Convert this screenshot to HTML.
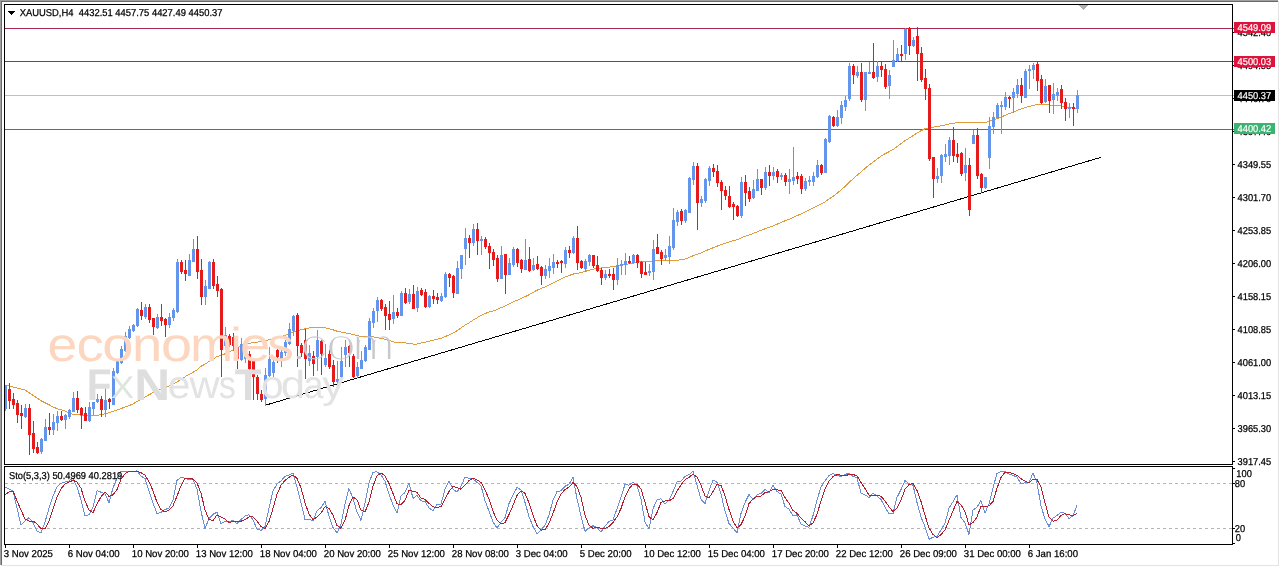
<!DOCTYPE html>
<html><head><meta charset="utf-8"><style>
html,body{margin:0;padding:0;background:#fff;}
body{width:1280px;height:567px;overflow:hidden;position:relative;}
svg{position:absolute;left:0;top:0;}
</style></head><body>
<svg width="1280" height="567" viewBox="0 0 1280 567" font-family="Liberation Sans, Arial, sans-serif" style="text-rendering:geometricPrecision">
<defs>
<pattern id="dash" x="5" y="0" width="6" height="1" patternUnits="userSpaceOnUse"><rect x="0" y="0" width="3" height="1" fill="#b4b4b4"/></pattern>
<filter id="thin" x="-5%" y="-5%" width="110%" height="110%"><feMorphology operator="erode" radius="0.7"/></filter>
<clipPath id="mainclip"><rect x="5" y="5" width="1227" height="459"/></clipPath>
<clipPath id="stclip"><rect x="5" y="467" width="1227" height="77"/></clipPath>
</defs>
<g shape-rendering="crispEdges">
<g clip-path="url(#mainclip)">
<rect x="5" y="28" width="1230" height="1" fill="#a8294f"/>
<rect x="5" y="61" width="1230" height="1" fill="#a8294f"/>
<rect x="5" y="95" width="1230" height="1" fill="#c0c0c0"/>
<rect x="5" y="129" width="1230" height="1" fill="#2e8b57"/>
<line x1="265.8" y1="405.1" x2="1100.7" y2="157.4" stroke="#000" stroke-width="1" shape-rendering="crispEdges"/>
<polyline fill="none" stroke="#e09c3c" stroke-width="1" shape-rendering="crispEdges" points="5,385.0 9,385.9 13,386.9 17,387.9 21,389.0 25,390.0 29,392.7 33,395.4 37,398.0 41,400.7 45,402.8 49,404.8 53,406.9 57,408.7 61,409.7 65,411.0 69,413.2 73,414.3 77,414.8 81,415.1 85,415.3 89,415.5 93,415.4 97,415.2 101,414.8 105,413.8 109,412.8 113,411.4 117,410.0 121,408.6 125,407.1 129,405.6 133,404.0 137,401.4 141,399.1 145,397.0 149,394.8 153,392.6 157,390.9 161,389.2 165,387.6 169,386.0 173,384.0 177,381.9 181,379.4 185,376.8 189,374.5 193,372.3 197,370.1 201,366.2 205,364.2 209,361.5 213,359.1 217,356.6 221,355.3 225,353.8 229,352.0 233,350.0 237,348.1 241,346.2 245,344.7 249,343.4 253,342.5 257,342.1 261,341.7 265,340.9 269,339.8 273,339.1 277,338.1 281,336.8 285,335.3 289,333.7 293,332.0 297,330.9 301,329.8 305,328.9 309,328.0 313,327.8 317,327.4 321,327.5 325,327.9 329,328.7 333,329.8 337,331.2 341,332.1 345,332.9 349,333.6 353,334.6 357,335.6 361,336.4 365,336.8 369,336.9 373,336.9 377,337.7 381,338.4 385,339.3 389,340.5 393,341.7 397,342.6 401,342.5 405,342.9 409,343.5 413,344.0 417,344.0 421,342.9 425,342.3 429,341.3 433,340.4 437,339.2 441,338.3 445,336.7 449,334.9 453,333.2 457,330.7 461,327.9 465,325.1 469,322.8 473,320.1 477,317.8 481,315.5 485,313.6 489,312.1 493,310.9 497,309.6 501,307.7 505,306.0 509,304.2 513,301.9 517,300.3 521,298.6 525,296.7 529,294.8 533,292.4 537,290.2 541,288.5 545,286.9 549,285.2 553,282.9 557,280.9 561,278.9 565,277.0 569,275.6 573,274.1 577,273.4 581,272.5 585,271.5 589,270.2 593,269.2 597,268.3 601,268.0 605,267.5 609,267.1 613,266.5 617,266.0 621,265.4 625,264.5 629,263.8 633,262.9 637,262.2 641,261.7 645,261.7 649,261.6 653,260.8 657,260.4 661,260.5 665,260.9 669,260.9 673,260.8 677,260.2 681,259.8 685,259.1 689,257.6 693,255.8 697,254.2 701,253.1 705,251.2 709,249.3 713,247.8 717,246.2 721,244.6 725,243.3 729,242.0 733,240.8 737,239.8 741,237.9 745,236.4 749,235.0 753,233.6 757,231.9 761,230.4 765,228.8 769,227.3 773,225.9 777,224.2 781,222.4 785,220.8 789,219.3 793,217.5 797,215.7 801,213.9 805,212.0 809,210.1 813,208.1 817,206.1 821,204.2 825,201.8 829,198.9 833,196.3 837,193.4 841,190.0 845,186.5 849,182.4 853,178.9 857,175.3 861,172.1 865,168.5 869,165.0 873,162.1 877,159.2 881,156.2 885,153.7 889,151.7 893,149.5 897,146.6 901,143.7 905,140.7 909,138.2 913,135.6 917,133.0 921,130.8 925,128.7 929,127.7 933,127.2 937,126.4 941,125.8 945,125.1 949,123.9 953,123.2 957,122.8 961,122.5 965,122.4 969,123.0 973,122.3 977,122.3 981,122.5 985,122.4 989,121.4 993,120.2 997,118.7 1001,117.1 1005,115.4 1009,113.7 1013,112.1 1017,110.5 1021,108.9 1025,107.6 1029,106.6 1033,105.4 1037,104.7 1041,104.6 1045,104.3 1049,105.0 1053,105.4 1057,105.8 1061,105.9 1065,106.6 1069,107.3 1073,107.9 1077,108.5"/>
<rect x="5" y="385" width="1" height="26" fill="#6495ed"/>
<rect x="4" y="386" width="3" height="23" fill="#6495ed"/>
<rect x="9" y="383" width="1" height="26" fill="#e51a1a"/>
<rect x="8" y="389" width="3" height="12" fill="#e51a1a"/>
<rect x="13" y="393" width="1" height="16" fill="#e51a1a"/>
<rect x="12" y="399" width="3" height="6" fill="#e51a1a"/>
<rect x="17" y="400" width="1" height="23" fill="#e51a1a"/>
<rect x="16" y="403" width="3" height="12" fill="#e51a1a"/>
<rect x="21" y="405" width="1" height="24" fill="#e51a1a"/>
<rect x="20" y="413" width="3" height="3" fill="#e51a1a"/>
<rect x="25" y="404" width="1" height="14" fill="#6495ed"/>
<rect x="24" y="408" width="3" height="9" fill="#6495ed"/>
<rect x="29" y="404" width="1" height="51" fill="#e51a1a"/>
<rect x="28" y="408" width="3" height="27" fill="#e51a1a"/>
<rect x="33" y="421" width="1" height="32" fill="#e51a1a"/>
<rect x="32" y="433" width="3" height="16" fill="#e51a1a"/>
<rect x="37" y="442" width="1" height="12" fill="#e51a1a"/>
<rect x="36" y="447" width="3" height="6" fill="#e51a1a"/>
<rect x="41" y="438" width="1" height="16" fill="#6495ed"/>
<rect x="40" y="439" width="3" height="13" fill="#6495ed"/>
<rect x="45" y="419" width="1" height="22" fill="#6495ed"/>
<rect x="44" y="427" width="3" height="14" fill="#6495ed"/>
<rect x="49" y="413" width="1" height="22" fill="#e51a1a"/>
<rect x="48" y="427" width="3" height="3" fill="#e51a1a"/>
<rect x="53" y="414" width="1" height="21" fill="#6495ed"/>
<rect x="52" y="422" width="3" height="8" fill="#6495ed"/>
<rect x="57" y="411" width="1" height="20" fill="#6495ed"/>
<rect x="56" y="416" width="3" height="7" fill="#6495ed"/>
<rect x="61" y="411" width="1" height="10" fill="#e51a1a"/>
<rect x="60" y="416" width="3" height="4" fill="#e51a1a"/>
<rect x="65" y="414" width="1" height="15" fill="#6495ed"/>
<rect x="64" y="415" width="3" height="5" fill="#6495ed"/>
<rect x="69" y="409" width="1" height="10" fill="#6495ed"/>
<rect x="68" y="410" width="3" height="7" fill="#6495ed"/>
<rect x="73" y="392" width="1" height="20" fill="#6495ed"/>
<rect x="72" y="398" width="3" height="14" fill="#6495ed"/>
<rect x="77" y="391" width="1" height="22" fill="#e51a1a"/>
<rect x="76" y="398" width="3" height="12" fill="#e51a1a"/>
<rect x="81" y="407" width="1" height="22" fill="#e51a1a"/>
<rect x="80" y="408" width="3" height="7" fill="#e51a1a"/>
<rect x="85" y="407" width="1" height="14" fill="#e51a1a"/>
<rect x="84" y="413" width="3" height="8" fill="#e51a1a"/>
<rect x="89" y="402" width="1" height="20" fill="#6495ed"/>
<rect x="88" y="407" width="3" height="14" fill="#6495ed"/>
<rect x="93" y="402" width="1" height="13" fill="#6495ed"/>
<rect x="92" y="402" width="3" height="7" fill="#6495ed"/>
<rect x="97" y="394" width="1" height="9" fill="#6495ed"/>
<rect x="96" y="399" width="3" height="3" fill="#6495ed"/>
<rect x="101" y="396" width="1" height="21" fill="#e51a1a"/>
<rect x="100" y="399" width="3" height="11" fill="#e51a1a"/>
<rect x="105" y="388" width="1" height="29" fill="#6495ed"/>
<rect x="104" y="400" width="3" height="10" fill="#6495ed"/>
<rect x="109" y="398" width="1" height="11" fill="#e51a1a"/>
<rect x="108" y="399" width="3" height="3" fill="#e51a1a"/>
<rect x="113" y="368" width="1" height="37" fill="#6495ed"/>
<rect x="112" y="371" width="3" height="34" fill="#6495ed"/>
<rect x="117" y="360" width="1" height="14" fill="#6495ed"/>
<rect x="116" y="361" width="3" height="12" fill="#6495ed"/>
<rect x="121" y="346" width="1" height="18" fill="#6495ed"/>
<rect x="120" y="349" width="3" height="14" fill="#6495ed"/>
<rect x="125" y="332" width="1" height="20" fill="#6495ed"/>
<rect x="124" y="336" width="3" height="15" fill="#6495ed"/>
<rect x="129" y="326" width="1" height="13" fill="#6495ed"/>
<rect x="128" y="329" width="3" height="9" fill="#6495ed"/>
<rect x="133" y="324" width="1" height="8" fill="#6495ed"/>
<rect x="132" y="325" width="3" height="6" fill="#6495ed"/>
<rect x="137" y="308" width="1" height="19" fill="#6495ed"/>
<rect x="136" y="309" width="3" height="17" fill="#6495ed"/>
<rect x="141" y="302" width="1" height="18" fill="#e51a1a"/>
<rect x="140" y="310" width="3" height="6" fill="#e51a1a"/>
<rect x="145" y="304" width="1" height="15" fill="#6495ed"/>
<rect x="144" y="307" width="3" height="10" fill="#6495ed"/>
<rect x="149" y="304" width="1" height="19" fill="#e51a1a"/>
<rect x="148" y="307" width="3" height="13" fill="#e51a1a"/>
<rect x="153" y="318" width="1" height="17" fill="#e51a1a"/>
<rect x="152" y="318" width="3" height="9" fill="#e51a1a"/>
<rect x="157" y="314" width="1" height="15" fill="#6495ed"/>
<rect x="156" y="317" width="3" height="11" fill="#6495ed"/>
<rect x="161" y="304" width="1" height="22" fill="#e51a1a"/>
<rect x="160" y="317" width="3" height="4" fill="#e51a1a"/>
<rect x="165" y="318" width="1" height="19" fill="#e51a1a"/>
<rect x="164" y="319" width="3" height="6" fill="#e51a1a"/>
<rect x="169" y="313" width="1" height="15" fill="#6495ed"/>
<rect x="168" y="317" width="3" height="8" fill="#6495ed"/>
<rect x="173" y="308" width="1" height="13" fill="#6495ed"/>
<rect x="172" y="310" width="3" height="8" fill="#6495ed"/>
<rect x="177" y="259" width="1" height="54" fill="#6495ed"/>
<rect x="176" y="262" width="3" height="50" fill="#6495ed"/>
<rect x="181" y="260" width="1" height="14" fill="#e51a1a"/>
<rect x="180" y="262" width="3" height="10" fill="#e51a1a"/>
<rect x="185" y="260" width="1" height="21" fill="#e51a1a"/>
<rect x="184" y="270" width="3" height="4" fill="#e51a1a"/>
<rect x="189" y="254" width="1" height="22" fill="#6495ed"/>
<rect x="188" y="260" width="3" height="16" fill="#6495ed"/>
<rect x="193" y="239" width="1" height="23" fill="#6495ed"/>
<rect x="192" y="249" width="3" height="13" fill="#6495ed"/>
<rect x="197" y="236" width="1" height="43" fill="#e51a1a"/>
<rect x="196" y="249" width="3" height="23" fill="#e51a1a"/>
<rect x="201" y="259" width="1" height="46" fill="#e51a1a"/>
<rect x="200" y="270" width="3" height="27" fill="#e51a1a"/>
<rect x="205" y="280" width="1" height="25" fill="#6495ed"/>
<rect x="204" y="286" width="3" height="11" fill="#6495ed"/>
<rect x="209" y="261" width="1" height="28" fill="#6495ed"/>
<rect x="208" y="262" width="3" height="27" fill="#6495ed"/>
<rect x="213" y="259" width="1" height="30" fill="#e51a1a"/>
<rect x="212" y="262" width="3" height="24" fill="#e51a1a"/>
<rect x="217" y="276" width="1" height="21" fill="#e51a1a"/>
<rect x="216" y="284" width="3" height="7" fill="#e51a1a"/>
<rect x="221" y="288" width="1" height="89" fill="#e51a1a"/>
<rect x="220" y="289" width="3" height="61" fill="#e51a1a"/>
<rect x="225" y="327" width="1" height="22" fill="#6495ed"/>
<rect x="224" y="335" width="3" height="11" fill="#6495ed"/>
<rect x="229" y="334" width="1" height="13" fill="#e51a1a"/>
<rect x="228" y="336" width="3" height="9" fill="#e51a1a"/>
<rect x="233" y="333" width="1" height="18" fill="#e51a1a"/>
<rect x="232" y="337" width="3" height="9" fill="#e51a1a"/>
<rect x="237" y="345" width="1" height="24" fill="#e51a1a"/>
<rect x="236" y="347" width="3" height="12" fill="#e51a1a"/>
<rect x="241" y="338" width="1" height="23" fill="#6495ed"/>
<rect x="240" y="344" width="3" height="16" fill="#6495ed"/>
<rect x="245" y="348" width="1" height="15" fill="#6495ed"/>
<rect x="244" y="350" width="3" height="9" fill="#6495ed"/>
<rect x="249" y="351" width="1" height="19" fill="#e51a1a"/>
<rect x="248" y="354" width="3" height="15" fill="#e51a1a"/>
<rect x="253" y="358" width="1" height="42" fill="#e51a1a"/>
<rect x="252" y="361" width="3" height="16" fill="#e51a1a"/>
<rect x="257" y="375" width="1" height="25" fill="#e51a1a"/>
<rect x="256" y="377" width="3" height="17" fill="#e51a1a"/>
<rect x="261" y="390" width="1" height="12" fill="#e51a1a"/>
<rect x="260" y="394" width="3" height="6" fill="#e51a1a"/>
<rect x="265" y="368" width="1" height="38" fill="#6495ed"/>
<rect x="264" y="375" width="3" height="24" fill="#6495ed"/>
<rect x="269" y="347" width="1" height="30" fill="#6495ed"/>
<rect x="268" y="359" width="3" height="17" fill="#6495ed"/>
<rect x="273" y="358" width="1" height="19" fill="#6495ed"/>
<rect x="272" y="362" width="3" height="11" fill="#6495ed"/>
<rect x="277" y="348" width="1" height="15" fill="#e51a1a"/>
<rect x="276" y="350" width="3" height="7" fill="#e51a1a"/>
<rect x="281" y="348" width="1" height="19" fill="#6495ed"/>
<rect x="280" y="352" width="3" height="7" fill="#6495ed"/>
<rect x="285" y="340" width="1" height="16" fill="#6495ed"/>
<rect x="284" y="342" width="3" height="11" fill="#6495ed"/>
<rect x="289" y="323" width="1" height="22" fill="#6495ed"/>
<rect x="288" y="329" width="3" height="15" fill="#6495ed"/>
<rect x="293" y="315" width="1" height="21" fill="#6495ed"/>
<rect x="292" y="316" width="3" height="15" fill="#6495ed"/>
<rect x="297" y="313" width="1" height="54" fill="#e51a1a"/>
<rect x="296" y="315" width="3" height="31" fill="#e51a1a"/>
<rect x="301" y="343" width="1" height="14" fill="#e51a1a"/>
<rect x="300" y="345" width="3" height="8" fill="#e51a1a"/>
<rect x="305" y="329" width="1" height="50" fill="#e51a1a"/>
<rect x="304" y="340" width="3" height="19" fill="#e51a1a"/>
<rect x="309" y="345" width="1" height="21" fill="#6495ed"/>
<rect x="308" y="353" width="3" height="8" fill="#6495ed"/>
<rect x="313" y="351" width="1" height="25" fill="#e51a1a"/>
<rect x="312" y="356" width="3" height="8" fill="#e51a1a"/>
<rect x="317" y="330" width="1" height="41" fill="#6495ed"/>
<rect x="316" y="340" width="3" height="17" fill="#6495ed"/>
<rect x="321" y="340" width="1" height="35" fill="#e51a1a"/>
<rect x="320" y="341" width="3" height="13" fill="#e51a1a"/>
<rect x="325" y="344" width="1" height="23" fill="#6495ed"/>
<rect x="324" y="358" width="3" height="7" fill="#6495ed"/>
<rect x="329" y="350" width="1" height="19" fill="#e51a1a"/>
<rect x="328" y="354" width="3" height="13" fill="#e51a1a"/>
<rect x="333" y="360" width="1" height="27" fill="#e51a1a"/>
<rect x="332" y="365" width="3" height="17" fill="#e51a1a"/>
<rect x="337" y="361" width="1" height="26" fill="#6495ed"/>
<rect x="336" y="379" width="3" height="3" fill="#6495ed"/>
<rect x="341" y="347" width="1" height="31" fill="#6495ed"/>
<rect x="340" y="361" width="3" height="16" fill="#6495ed"/>
<rect x="345" y="340" width="1" height="27" fill="#6495ed"/>
<rect x="344" y="347" width="3" height="8" fill="#6495ed"/>
<rect x="349" y="345" width="1" height="22" fill="#e51a1a"/>
<rect x="348" y="346" width="3" height="7" fill="#e51a1a"/>
<rect x="353" y="354" width="1" height="24" fill="#e51a1a"/>
<rect x="352" y="356" width="3" height="21" fill="#e51a1a"/>
<rect x="357" y="362" width="1" height="16" fill="#6495ed"/>
<rect x="356" y="367" width="3" height="9" fill="#6495ed"/>
<rect x="361" y="351" width="1" height="18" fill="#6495ed"/>
<rect x="360" y="360" width="3" height="9" fill="#6495ed"/>
<rect x="365" y="345" width="1" height="17" fill="#6495ed"/>
<rect x="364" y="347" width="3" height="14" fill="#6495ed"/>
<rect x="369" y="318" width="1" height="32" fill="#6495ed"/>
<rect x="368" y="321" width="3" height="29" fill="#6495ed"/>
<rect x="373" y="308" width="1" height="20" fill="#6495ed"/>
<rect x="372" y="311" width="3" height="12" fill="#6495ed"/>
<rect x="377" y="297" width="1" height="25" fill="#6495ed"/>
<rect x="376" y="300" width="3" height="11" fill="#6495ed"/>
<rect x="381" y="299" width="1" height="12" fill="#e51a1a"/>
<rect x="380" y="300" width="3" height="9" fill="#e51a1a"/>
<rect x="385" y="304" width="1" height="26" fill="#e51a1a"/>
<rect x="384" y="307" width="3" height="9" fill="#e51a1a"/>
<rect x="389" y="301" width="1" height="29" fill="#e51a1a"/>
<rect x="388" y="314" width="3" height="6" fill="#e51a1a"/>
<rect x="393" y="295" width="1" height="29" fill="#6495ed"/>
<rect x="392" y="312" width="3" height="7" fill="#6495ed"/>
<rect x="397" y="308" width="1" height="10" fill="#e51a1a"/>
<rect x="396" y="312" width="3" height="4" fill="#e51a1a"/>
<rect x="401" y="291" width="1" height="25" fill="#6495ed"/>
<rect x="400" y="293" width="3" height="23" fill="#6495ed"/>
<rect x="405" y="288" width="1" height="16" fill="#e51a1a"/>
<rect x="404" y="293" width="3" height="10" fill="#e51a1a"/>
<rect x="409" y="289" width="1" height="15" fill="#6495ed"/>
<rect x="408" y="294" width="3" height="8" fill="#6495ed"/>
<rect x="413" y="285" width="1" height="24" fill="#e51a1a"/>
<rect x="412" y="294" width="3" height="15" fill="#e51a1a"/>
<rect x="417" y="287" width="1" height="25" fill="#6495ed"/>
<rect x="416" y="291" width="3" height="17" fill="#6495ed"/>
<rect x="421" y="288" width="1" height="8" fill="#e51a1a"/>
<rect x="420" y="290" width="3" height="5" fill="#e51a1a"/>
<rect x="425" y="289" width="1" height="19" fill="#e51a1a"/>
<rect x="424" y="292" width="3" height="15" fill="#e51a1a"/>
<rect x="429" y="295" width="1" height="13" fill="#6495ed"/>
<rect x="428" y="296" width="3" height="11" fill="#6495ed"/>
<rect x="433" y="290" width="1" height="14" fill="#e51a1a"/>
<rect x="432" y="296" width="3" height="3" fill="#e51a1a"/>
<rect x="437" y="293" width="1" height="11" fill="#e51a1a"/>
<rect x="436" y="297" width="3" height="3" fill="#e51a1a"/>
<rect x="441" y="293" width="1" height="9" fill="#6495ed"/>
<rect x="440" y="296" width="3" height="5" fill="#6495ed"/>
<rect x="445" y="272" width="1" height="26" fill="#6495ed"/>
<rect x="444" y="274" width="3" height="23" fill="#6495ed"/>
<rect x="449" y="273" width="1" height="14" fill="#e51a1a"/>
<rect x="448" y="274" width="3" height="4" fill="#e51a1a"/>
<rect x="453" y="275" width="1" height="23" fill="#e51a1a"/>
<rect x="452" y="276" width="3" height="17" fill="#e51a1a"/>
<rect x="457" y="261" width="1" height="33" fill="#6495ed"/>
<rect x="456" y="268" width="3" height="26" fill="#6495ed"/>
<rect x="461" y="255" width="1" height="24" fill="#6495ed"/>
<rect x="460" y="255" width="3" height="14" fill="#6495ed"/>
<rect x="465" y="228" width="1" height="37" fill="#6495ed"/>
<rect x="464" y="238" width="3" height="11" fill="#6495ed"/>
<rect x="469" y="235" width="1" height="23" fill="#e51a1a"/>
<rect x="468" y="238" width="3" height="5" fill="#e51a1a"/>
<rect x="473" y="224" width="1" height="22" fill="#6495ed"/>
<rect x="472" y="229" width="3" height="14" fill="#6495ed"/>
<rect x="477" y="223" width="1" height="32" fill="#e51a1a"/>
<rect x="476" y="229" width="3" height="12" fill="#e51a1a"/>
<rect x="481" y="236" width="1" height="19" fill="#6495ed"/>
<rect x="480" y="239" width="3" height="2" fill="#6495ed"/>
<rect x="485" y="237" width="1" height="12" fill="#e51a1a"/>
<rect x="484" y="239" width="3" height="8" fill="#e51a1a"/>
<rect x="489" y="243" width="1" height="26" fill="#e51a1a"/>
<rect x="488" y="246" width="3" height="7" fill="#e51a1a"/>
<rect x="493" y="249" width="1" height="17" fill="#e51a1a"/>
<rect x="492" y="252" width="3" height="8" fill="#e51a1a"/>
<rect x="497" y="255" width="1" height="27" fill="#e51a1a"/>
<rect x="496" y="258" width="3" height="21" fill="#e51a1a"/>
<rect x="501" y="246" width="1" height="33" fill="#6495ed"/>
<rect x="500" y="255" width="3" height="24" fill="#6495ed"/>
<rect x="505" y="254" width="1" height="40" fill="#e51a1a"/>
<rect x="504" y="254" width="3" height="21" fill="#e51a1a"/>
<rect x="509" y="258" width="1" height="17" fill="#6495ed"/>
<rect x="508" y="263" width="3" height="12" fill="#6495ed"/>
<rect x="513" y="247" width="1" height="20" fill="#6495ed"/>
<rect x="512" y="249" width="3" height="16" fill="#6495ed"/>
<rect x="517" y="248" width="1" height="19" fill="#e51a1a"/>
<rect x="516" y="249" width="3" height="14" fill="#e51a1a"/>
<rect x="521" y="259" width="1" height="14" fill="#e51a1a"/>
<rect x="520" y="260" width="3" height="9" fill="#e51a1a"/>
<rect x="525" y="239" width="1" height="31" fill="#6495ed"/>
<rect x="524" y="260" width="3" height="10" fill="#6495ed"/>
<rect x="529" y="247" width="1" height="25" fill="#e51a1a"/>
<rect x="528" y="259" width="3" height="12" fill="#e51a1a"/>
<rect x="533" y="258" width="1" height="13" fill="#6495ed"/>
<rect x="532" y="265" width="3" height="5" fill="#6495ed"/>
<rect x="537" y="256" width="1" height="14" fill="#e51a1a"/>
<rect x="536" y="264" width="3" height="5" fill="#e51a1a"/>
<rect x="541" y="266" width="1" height="19" fill="#e51a1a"/>
<rect x="540" y="267" width="3" height="9" fill="#e51a1a"/>
<rect x="545" y="265" width="1" height="14" fill="#6495ed"/>
<rect x="544" y="269" width="3" height="7" fill="#6495ed"/>
<rect x="549" y="258" width="1" height="20" fill="#6495ed"/>
<rect x="548" y="266" width="3" height="5" fill="#6495ed"/>
<rect x="553" y="254" width="1" height="20" fill="#6495ed"/>
<rect x="552" y="262" width="3" height="6" fill="#6495ed"/>
<rect x="557" y="260" width="1" height="8" fill="#e51a1a"/>
<rect x="556" y="262" width="3" height="2" fill="#e51a1a"/>
<rect x="561" y="260" width="1" height="13" fill="#e51a1a"/>
<rect x="560" y="261" width="3" height="2" fill="#e51a1a"/>
<rect x="565" y="247" width="1" height="21" fill="#6495ed"/>
<rect x="564" y="250" width="3" height="14" fill="#6495ed"/>
<rect x="569" y="246" width="1" height="12" fill="#e51a1a"/>
<rect x="568" y="250" width="3" height="3" fill="#e51a1a"/>
<rect x="573" y="236" width="1" height="18" fill="#6495ed"/>
<rect x="572" y="238" width="3" height="15" fill="#6495ed"/>
<rect x="577" y="226" width="1" height="44" fill="#e51a1a"/>
<rect x="576" y="238" width="3" height="25" fill="#e51a1a"/>
<rect x="581" y="260" width="1" height="9" fill="#e51a1a"/>
<rect x="580" y="261" width="3" height="7" fill="#e51a1a"/>
<rect x="585" y="259" width="1" height="13" fill="#6495ed"/>
<rect x="584" y="261" width="3" height="8" fill="#6495ed"/>
<rect x="589" y="254" width="1" height="12" fill="#6495ed"/>
<rect x="588" y="255" width="3" height="7" fill="#6495ed"/>
<rect x="593" y="255" width="1" height="13" fill="#e51a1a"/>
<rect x="592" y="255" width="3" height="11" fill="#e51a1a"/>
<rect x="597" y="256" width="1" height="16" fill="#e51a1a"/>
<rect x="596" y="265" width="3" height="6" fill="#e51a1a"/>
<rect x="601" y="268" width="1" height="17" fill="#e51a1a"/>
<rect x="600" y="270" width="3" height="8" fill="#e51a1a"/>
<rect x="605" y="270" width="1" height="10" fill="#6495ed"/>
<rect x="604" y="274" width="3" height="4" fill="#6495ed"/>
<rect x="609" y="269" width="1" height="9" fill="#e51a1a"/>
<rect x="608" y="274" width="3" height="2" fill="#e51a1a"/>
<rect x="613" y="268" width="1" height="22" fill="#e51a1a"/>
<rect x="612" y="274" width="3" height="6" fill="#e51a1a"/>
<rect x="617" y="258" width="1" height="27" fill="#6495ed"/>
<rect x="616" y="265" width="3" height="15" fill="#6495ed"/>
<rect x="621" y="260" width="1" height="15" fill="#6495ed"/>
<rect x="620" y="264" width="3" height="2" fill="#6495ed"/>
<rect x="625" y="253" width="1" height="22" fill="#6495ed"/>
<rect x="624" y="261" width="3" height="4" fill="#6495ed"/>
<rect x="629" y="256" width="1" height="8" fill="#e51a1a"/>
<rect x="628" y="261" width="3" height="2" fill="#e51a1a"/>
<rect x="633" y="254" width="1" height="10" fill="#6495ed"/>
<rect x="632" y="255" width="3" height="8" fill="#6495ed"/>
<rect x="637" y="254" width="1" height="14" fill="#e51a1a"/>
<rect x="636" y="255" width="3" height="8" fill="#e51a1a"/>
<rect x="641" y="261" width="1" height="17" fill="#e51a1a"/>
<rect x="640" y="262" width="3" height="12" fill="#e51a1a"/>
<rect x="645" y="262" width="1" height="13" fill="#e51a1a"/>
<rect x="644" y="272" width="3" height="3" fill="#e51a1a"/>
<rect x="649" y="264" width="1" height="12" fill="#6495ed"/>
<rect x="648" y="271" width="3" height="2" fill="#6495ed"/>
<rect x="653" y="240" width="1" height="40" fill="#6495ed"/>
<rect x="652" y="249" width="3" height="23" fill="#6495ed"/>
<rect x="657" y="234" width="1" height="20" fill="#e51a1a"/>
<rect x="656" y="247" width="3" height="7" fill="#e51a1a"/>
<rect x="661" y="250" width="1" height="15" fill="#e51a1a"/>
<rect x="660" y="252" width="3" height="7" fill="#e51a1a"/>
<rect x="665" y="249" width="1" height="12" fill="#6495ed"/>
<rect x="664" y="255" width="3" height="3" fill="#6495ed"/>
<rect x="669" y="236" width="1" height="28" fill="#6495ed"/>
<rect x="668" y="246" width="3" height="11" fill="#6495ed"/>
<rect x="673" y="208" width="1" height="42" fill="#6495ed"/>
<rect x="672" y="220" width="3" height="28" fill="#6495ed"/>
<rect x="677" y="210" width="1" height="16" fill="#6495ed"/>
<rect x="676" y="212" width="3" height="10" fill="#6495ed"/>
<rect x="681" y="209" width="1" height="16" fill="#e51a1a"/>
<rect x="680" y="211" width="3" height="10" fill="#e51a1a"/>
<rect x="685" y="209" width="1" height="14" fill="#6495ed"/>
<rect x="684" y="210" width="3" height="11" fill="#6495ed"/>
<rect x="689" y="177" width="1" height="36" fill="#6495ed"/>
<rect x="688" y="178" width="3" height="35" fill="#6495ed"/>
<rect x="693" y="162" width="1" height="23" fill="#6495ed"/>
<rect x="692" y="166" width="3" height="14" fill="#6495ed"/>
<rect x="697" y="163" width="1" height="67" fill="#e51a1a"/>
<rect x="696" y="166" width="3" height="37" fill="#e51a1a"/>
<rect x="701" y="196" width="1" height="11" fill="#6495ed"/>
<rect x="700" y="199" width="3" height="4" fill="#6495ed"/>
<rect x="705" y="178" width="1" height="25" fill="#6495ed"/>
<rect x="704" y="179" width="3" height="22" fill="#6495ed"/>
<rect x="709" y="166" width="1" height="20" fill="#6495ed"/>
<rect x="708" y="168" width="3" height="13" fill="#6495ed"/>
<rect x="713" y="164" width="1" height="13" fill="#e51a1a"/>
<rect x="712" y="168" width="3" height="4" fill="#e51a1a"/>
<rect x="717" y="165" width="1" height="22" fill="#e51a1a"/>
<rect x="716" y="171" width="3" height="12" fill="#e51a1a"/>
<rect x="721" y="180" width="1" height="30" fill="#e51a1a"/>
<rect x="720" y="182" width="3" height="9" fill="#e51a1a"/>
<rect x="725" y="186" width="1" height="14" fill="#e51a1a"/>
<rect x="724" y="190" width="3" height="6" fill="#e51a1a"/>
<rect x="729" y="186" width="1" height="22" fill="#e51a1a"/>
<rect x="728" y="196" width="3" height="11" fill="#e51a1a"/>
<rect x="733" y="202" width="1" height="18" fill="#e51a1a"/>
<rect x="732" y="204" width="3" height="3" fill="#e51a1a"/>
<rect x="737" y="205" width="1" height="12" fill="#e51a1a"/>
<rect x="736" y="206" width="3" height="10" fill="#e51a1a"/>
<rect x="741" y="177" width="1" height="41" fill="#6495ed"/>
<rect x="740" y="182" width="3" height="34" fill="#6495ed"/>
<rect x="745" y="175" width="1" height="31" fill="#e51a1a"/>
<rect x="744" y="182" width="3" height="11" fill="#e51a1a"/>
<rect x="749" y="187" width="1" height="15" fill="#e51a1a"/>
<rect x="748" y="191" width="3" height="8" fill="#e51a1a"/>
<rect x="753" y="180" width="1" height="19" fill="#6495ed"/>
<rect x="752" y="189" width="3" height="9" fill="#6495ed"/>
<rect x="757" y="169" width="1" height="22" fill="#6495ed"/>
<rect x="756" y="179" width="3" height="12" fill="#6495ed"/>
<rect x="761" y="179" width="1" height="16" fill="#e51a1a"/>
<rect x="760" y="179" width="3" height="9" fill="#e51a1a"/>
<rect x="765" y="167" width="1" height="23" fill="#6495ed"/>
<rect x="764" y="172" width="3" height="16" fill="#6495ed"/>
<rect x="769" y="165" width="1" height="21" fill="#e51a1a"/>
<rect x="768" y="172" width="3" height="4" fill="#e51a1a"/>
<rect x="773" y="167" width="1" height="13" fill="#6495ed"/>
<rect x="772" y="172" width="3" height="4" fill="#6495ed"/>
<rect x="777" y="169" width="1" height="14" fill="#e51a1a"/>
<rect x="776" y="171" width="3" height="6" fill="#e51a1a"/>
<rect x="781" y="173" width="1" height="7" fill="#6495ed"/>
<rect x="780" y="175" width="3" height="2" fill="#6495ed"/>
<rect x="785" y="173" width="1" height="13" fill="#e51a1a"/>
<rect x="784" y="175" width="3" height="7" fill="#e51a1a"/>
<rect x="789" y="169" width="1" height="25" fill="#6495ed"/>
<rect x="788" y="179" width="3" height="3" fill="#6495ed"/>
<rect x="793" y="147" width="1" height="38" fill="#6495ed"/>
<rect x="792" y="177" width="3" height="4" fill="#6495ed"/>
<rect x="797" y="172" width="1" height="12" fill="#e51a1a"/>
<rect x="796" y="176" width="3" height="3" fill="#e51a1a"/>
<rect x="801" y="174" width="1" height="20" fill="#e51a1a"/>
<rect x="800" y="176" width="3" height="13" fill="#e51a1a"/>
<rect x="805" y="178" width="1" height="13" fill="#6495ed"/>
<rect x="804" y="181" width="3" height="8" fill="#6495ed"/>
<rect x="809" y="176" width="1" height="10" fill="#6495ed"/>
<rect x="808" y="180" width="3" height="2" fill="#6495ed"/>
<rect x="813" y="172" width="1" height="14" fill="#6495ed"/>
<rect x="812" y="176" width="3" height="6" fill="#6495ed"/>
<rect x="817" y="160" width="1" height="18" fill="#6495ed"/>
<rect x="816" y="165" width="3" height="12" fill="#6495ed"/>
<rect x="821" y="164" width="1" height="11" fill="#e51a1a"/>
<rect x="820" y="165" width="3" height="8" fill="#e51a1a"/>
<rect x="825" y="138" width="1" height="35" fill="#6495ed"/>
<rect x="824" y="139" width="3" height="34" fill="#6495ed"/>
<rect x="829" y="115" width="1" height="28" fill="#6495ed"/>
<rect x="828" y="116" width="3" height="26" fill="#6495ed"/>
<rect x="833" y="116" width="1" height="11" fill="#e51a1a"/>
<rect x="832" y="117" width="3" height="9" fill="#e51a1a"/>
<rect x="837" y="110" width="1" height="17" fill="#6495ed"/>
<rect x="836" y="117" width="3" height="9" fill="#6495ed"/>
<rect x="841" y="101" width="1" height="23" fill="#6495ed"/>
<rect x="840" y="105" width="3" height="13" fill="#6495ed"/>
<rect x="845" y="96" width="1" height="15" fill="#6495ed"/>
<rect x="844" y="100" width="3" height="7" fill="#6495ed"/>
<rect x="849" y="63" width="1" height="38" fill="#6495ed"/>
<rect x="848" y="66" width="3" height="33" fill="#6495ed"/>
<rect x="853" y="64" width="1" height="20" fill="#e51a1a"/>
<rect x="852" y="66" width="3" height="9" fill="#e51a1a"/>
<rect x="857" y="66" width="1" height="12" fill="#6495ed"/>
<rect x="856" y="72" width="3" height="4" fill="#6495ed"/>
<rect x="861" y="63" width="1" height="39" fill="#e51a1a"/>
<rect x="860" y="72" width="3" height="28" fill="#e51a1a"/>
<rect x="865" y="72" width="1" height="39" fill="#6495ed"/>
<rect x="864" y="72" width="3" height="28" fill="#6495ed"/>
<rect x="869" y="62" width="1" height="12" fill="#6495ed"/>
<rect x="868" y="72" width="3" height="2" fill="#6495ed"/>
<rect x="873" y="43" width="1" height="36" fill="#e51a1a"/>
<rect x="872" y="72" width="3" height="6" fill="#e51a1a"/>
<rect x="877" y="61" width="1" height="21" fill="#6495ed"/>
<rect x="876" y="66" width="3" height="11" fill="#6495ed"/>
<rect x="881" y="62" width="1" height="15" fill="#e51a1a"/>
<rect x="880" y="66" width="3" height="4" fill="#e51a1a"/>
<rect x="885" y="64" width="1" height="25" fill="#e51a1a"/>
<rect x="884" y="69" width="3" height="18" fill="#e51a1a"/>
<rect x="889" y="70" width="1" height="29" fill="#6495ed"/>
<rect x="888" y="75" width="3" height="11" fill="#6495ed"/>
<rect x="893" y="40" width="1" height="27" fill="#6495ed"/>
<rect x="892" y="60" width="3" height="7" fill="#6495ed"/>
<rect x="897" y="48" width="1" height="14" fill="#6495ed"/>
<rect x="896" y="54" width="3" height="7" fill="#6495ed"/>
<rect x="901" y="45" width="1" height="16" fill="#e51a1a"/>
<rect x="900" y="54" width="3" height="2" fill="#e51a1a"/>
<rect x="905" y="28" width="1" height="32" fill="#6495ed"/>
<rect x="904" y="29" width="3" height="25" fill="#6495ed"/>
<rect x="909" y="27" width="1" height="28" fill="#e51a1a"/>
<rect x="908" y="28" width="3" height="18" fill="#e51a1a"/>
<rect x="913" y="37" width="1" height="10" fill="#6495ed"/>
<rect x="912" y="40" width="3" height="6" fill="#6495ed"/>
<rect x="917" y="27" width="1" height="54" fill="#e51a1a"/>
<rect x="916" y="36" width="3" height="18" fill="#e51a1a"/>
<rect x="921" y="47" width="1" height="35" fill="#e51a1a"/>
<rect x="920" y="53" width="3" height="27" fill="#e51a1a"/>
<rect x="925" y="69" width="1" height="31" fill="#e51a1a"/>
<rect x="924" y="78" width="3" height="11" fill="#e51a1a"/>
<rect x="929" y="84" width="1" height="77" fill="#e51a1a"/>
<rect x="928" y="88" width="3" height="71" fill="#e51a1a"/>
<rect x="933" y="157" width="1" height="41" fill="#e51a1a"/>
<rect x="932" y="157" width="3" height="22" fill="#e51a1a"/>
<rect x="937" y="168" width="1" height="15" fill="#6495ed"/>
<rect x="936" y="176" width="3" height="3" fill="#6495ed"/>
<rect x="941" y="154" width="1" height="29" fill="#6495ed"/>
<rect x="940" y="155" width="3" height="21" fill="#6495ed"/>
<rect x="945" y="144" width="1" height="18" fill="#6495ed"/>
<rect x="944" y="154" width="3" height="3" fill="#6495ed"/>
<rect x="949" y="137" width="1" height="28" fill="#6495ed"/>
<rect x="948" y="140" width="3" height="16" fill="#6495ed"/>
<rect x="953" y="127" width="1" height="35" fill="#e51a1a"/>
<rect x="952" y="140" width="3" height="16" fill="#e51a1a"/>
<rect x="957" y="143" width="1" height="20" fill="#e51a1a"/>
<rect x="956" y="154" width="3" height="3" fill="#e51a1a"/>
<rect x="961" y="152" width="1" height="24" fill="#e51a1a"/>
<rect x="960" y="153" width="3" height="21" fill="#e51a1a"/>
<rect x="965" y="148" width="1" height="33" fill="#6495ed"/>
<rect x="964" y="165" width="3" height="8" fill="#6495ed"/>
<rect x="969" y="158" width="1" height="58" fill="#e51a1a"/>
<rect x="968" y="165" width="3" height="45" fill="#e51a1a"/>
<rect x="973" y="130" width="1" height="14" fill="#6495ed"/>
<rect x="972" y="135" width="3" height="9" fill="#6495ed"/>
<rect x="977" y="128" width="1" height="51" fill="#e51a1a"/>
<rect x="976" y="135" width="3" height="41" fill="#e51a1a"/>
<rect x="981" y="173" width="1" height="20" fill="#e51a1a"/>
<rect x="980" y="174" width="3" height="14" fill="#e51a1a"/>
<rect x="985" y="177" width="1" height="12" fill="#6495ed"/>
<rect x="984" y="177" width="3" height="11" fill="#6495ed"/>
<rect x="989" y="117" width="1" height="52" fill="#6495ed"/>
<rect x="988" y="126" width="3" height="32" fill="#6495ed"/>
<rect x="993" y="112" width="1" height="22" fill="#6495ed"/>
<rect x="992" y="117" width="3" height="10" fill="#6495ed"/>
<rect x="997" y="103" width="1" height="16" fill="#6495ed"/>
<rect x="996" y="105" width="3" height="13" fill="#6495ed"/>
<rect x="1001" y="101" width="1" height="33" fill="#6495ed"/>
<rect x="1000" y="105" width="3" height="2" fill="#6495ed"/>
<rect x="1005" y="92" width="1" height="18" fill="#6495ed"/>
<rect x="1004" y="97" width="3" height="10" fill="#6495ed"/>
<rect x="1009" y="96" width="1" height="12" fill="#e51a1a"/>
<rect x="1008" y="97" width="3" height="2" fill="#e51a1a"/>
<rect x="1013" y="88" width="1" height="25" fill="#6495ed"/>
<rect x="1012" y="92" width="3" height="6" fill="#6495ed"/>
<rect x="1017" y="79" width="1" height="19" fill="#6495ed"/>
<rect x="1016" y="85" width="3" height="9" fill="#6495ed"/>
<rect x="1021" y="78" width="1" height="25" fill="#e51a1a"/>
<rect x="1020" y="85" width="3" height="11" fill="#e51a1a"/>
<rect x="1025" y="69" width="1" height="29" fill="#6495ed"/>
<rect x="1024" y="71" width="3" height="27" fill="#6495ed"/>
<rect x="1029" y="65" width="1" height="24" fill="#6495ed"/>
<rect x="1028" y="69" width="3" height="2" fill="#6495ed"/>
<rect x="1033" y="63" width="1" height="16" fill="#6495ed"/>
<rect x="1032" y="65" width="3" height="5" fill="#6495ed"/>
<rect x="1037" y="62" width="1" height="29" fill="#e51a1a"/>
<rect x="1036" y="64" width="3" height="17" fill="#e51a1a"/>
<rect x="1041" y="75" width="1" height="29" fill="#e51a1a"/>
<rect x="1040" y="79" width="3" height="24" fill="#e51a1a"/>
<rect x="1045" y="79" width="1" height="24" fill="#6495ed"/>
<rect x="1044" y="86" width="3" height="16" fill="#6495ed"/>
<rect x="1049" y="85" width="1" height="28" fill="#e51a1a"/>
<rect x="1048" y="85" width="3" height="16" fill="#e51a1a"/>
<rect x="1053" y="83" width="1" height="31" fill="#6495ed"/>
<rect x="1052" y="94" width="3" height="6" fill="#6495ed"/>
<rect x="1057" y="88" width="1" height="13" fill="#6495ed"/>
<rect x="1056" y="92" width="3" height="4" fill="#6495ed"/>
<rect x="1061" y="85" width="1" height="24" fill="#e51a1a"/>
<rect x="1060" y="89" width="3" height="14" fill="#e51a1a"/>
<rect x="1065" y="98" width="1" height="23" fill="#e51a1a"/>
<rect x="1064" y="102" width="3" height="7" fill="#e51a1a"/>
<rect x="1069" y="103" width="1" height="15" fill="#6495ed"/>
<rect x="1068" y="107" width="3" height="2" fill="#6495ed"/>
<rect x="1073" y="103" width="1" height="23" fill="#e51a1a"/>
<rect x="1072" y="107" width="3" height="2" fill="#e51a1a"/>
<rect x="1077" y="90" width="1" height="23" fill="#6495ed"/>
<rect x="1076" y="95" width="3" height="14" fill="#6495ed"/>
<g font-family="Liberation Sans, Arial, sans-serif"><text transform="translate(0 360.7)"><tspan x="47.60" y="0" font-size="47.7" fill="#fcd6bf" textLength="29.67" lengthAdjust="spacingAndGlyphs">e</tspan><tspan x="76.45" y="0" font-size="47.7" fill="#fcd6bf" textLength="27.21" lengthAdjust="spacingAndGlyphs">c</tspan><tspan x="102.25" y="0" font-size="47.7" fill="#fcd6bf" textLength="31.27" lengthAdjust="spacingAndGlyphs">o</tspan><tspan x="131.97" y="0" font-size="47.7" fill="#fcd6bf" textLength="30.23" lengthAdjust="spacingAndGlyphs">n</tspan><tspan x="161.07" y="0" font-size="47.7" fill="#fcd6bf" textLength="31.03" lengthAdjust="spacingAndGlyphs">o</tspan><tspan x="190.26" y="0" font-size="47.7" fill="#fcd6bf" textLength="42.85" lengthAdjust="spacingAndGlyphs">m</tspan><tspan x="230.31" y="0" font-size="47.7" fill="#fcd6bf" textLength="11.60" lengthAdjust="spacingAndGlyphs">i</tspan><tspan x="239.96" y="0" font-size="47.7" fill="#fcd6bf" textLength="30.15" lengthAdjust="spacingAndGlyphs">e</tspan><tspan x="267.30" y="0" font-size="47.7" fill="#fcd6bf" textLength="26.67" lengthAdjust="spacingAndGlyphs">s</tspan></text><text transform="translate(0 360)" filter="url(#thin)"><tspan x="290.21" y="0" font-size="46" fill="#c8c9ce" textLength="17.26" lengthAdjust="spacingAndGlyphs">.</tspan><tspan x="300.22" y="0" font-size="46" fill="#c8c9ce" textLength="27.56" lengthAdjust="spacingAndGlyphs">c</tspan><tspan x="325.94" y="0" font-size="46" fill="#c8c9ce" textLength="29.98" lengthAdjust="spacingAndGlyphs">o</tspan><tspan x="352.19" y="0" font-size="46" fill="#c8c9ce" textLength="42.49" lengthAdjust="spacingAndGlyphs">m</tspan></text>
<text transform="translate(0 397.6)"><tspan x="86.66" y="2.4" font-size="44.5" font-weight="bold" fill="#dedede" textLength="24.80" lengthAdjust="spacingAndGlyphs">F</tspan><tspan x="111.13" y="0.3" font-size="31.2" fill="#dde6dd" textLength="23.13" lengthAdjust="spacingAndGlyphs">X</tspan><tspan x="134.37" y="2.4" font-size="44.5" font-weight="bold" fill="#dedede" textLength="35.86" lengthAdjust="spacingAndGlyphs">N</tspan><tspan x="167.77" y="0" font-size="38.9" fill="#e3e3e3" textLength="22.61" lengthAdjust="spacingAndGlyphs">e</tspan><tspan x="189.40" y="0" font-size="38.9" fill="#e3e3e3" textLength="30.18" lengthAdjust="spacingAndGlyphs">w</tspan><tspan x="218.89" y="0" font-size="38.9" fill="#e3e3e3" textLength="16.78" lengthAdjust="spacingAndGlyphs">s</tspan><tspan x="234.76" y="2.4" font-size="44.5" font-weight="bold" fill="#dedede" textLength="26.72" lengthAdjust="spacingAndGlyphs">T</tspan><tspan x="260.97" y="0" font-size="38.9" fill="#e3e3e3" textLength="22.60" lengthAdjust="spacingAndGlyphs">o</tspan><tspan x="280.75" y="0" font-size="38.9" fill="#e3e3e3" textLength="24.35" lengthAdjust="spacingAndGlyphs">d</tspan><tspan x="303.59" y="0" font-size="38.9" fill="#e3e3e3" textLength="19.96" lengthAdjust="spacingAndGlyphs">a</tspan><tspan x="322.28" y="0" font-size="38.9" fill="#e3e3e3" textLength="21.73" lengthAdjust="spacingAndGlyphs">y</tspan></text></g>
</g>
<g clip-path="url(#stclip)">
<rect x="5" y="483" width="1227" height="1" fill="url(#dash)"/>
<rect x="5" y="528" width="1227" height="1" fill="url(#dash)"/>
<polyline fill="none" stroke="#6a8fd8" stroke-width="1" shape-rendering="crispEdges" points="5,487.0 9,489.0 13,491.0 17,508.0 21,525.0 25,521.0 29,517.7 33,522.4 37,531.3 41,532.9 45,522.0 49,508.4 53,496.3 57,486.9 61,483.3 65,481.9 69,481.0 73,478.0 77,487.2 81,499.6 85,516.0 89,514.8 93,507.1 97,490.7 101,492.2 105,493.9 109,502.7 113,487.9 117,478.2 121,471.4 125,471.4 129,471.9 133,471.5 137,470.8 141,476.0 145,478.5 149,490.7 153,503.0 157,513.4 161,512.4 165,509.5 169,508.2 173,499.9 177,480.6 181,477.0 185,478.2 189,479.7 193,479.4 197,489.3 201,511.1 205,528.7 209,518.5 213,514.3 217,512.2 221,523.8 225,521.4 229,522.2 233,520.2 237,523.7 241,519.6 245,516.1 249,514.7 253,519.7 257,529.3 261,530.3 265,526.6 269,508.1 273,491.0 277,484.0 281,480.9 285,476.3 289,475.1 293,473.2 297,487.1 301,502.9 305,519.4 309,519.4 313,520.5 317,510.8 321,507.6 325,501.5 329,516.0 333,527.6 337,532.9 341,524.3 345,503.8 349,488.6 353,498.4 357,512.1 361,520.4 365,503.2 369,483.1 373,472.2 377,471.8 381,474.7 385,481.3 389,494.3 393,504.7 397,512.8 401,496.1 405,492.4 409,482.9 413,498.3 417,495.5 421,500.9 425,501.4 429,507.9 433,510.9 437,504.4 441,504.2 445,489.3 449,480.9 453,489.3 457,492.0 461,486.4 465,476.9 469,478.4 473,478.9 477,482.4 481,485.7 485,500.8 489,511.0 493,521.8 497,528.0 501,522.3 505,517.6 509,503.6 513,495.0 517,487.6 521,489.9 525,502.5 529,516.6 533,526.5 537,533.7 541,530.1 545,525.3 549,514.9 553,500.1 557,491.5 561,490.8 565,486.3 569,484.2 573,477.3 577,498.8 581,515.9 585,531.3 589,527.8 593,525.8 597,527.4 601,532.2 605,526.0 609,521.6 613,519.9 617,508.8 621,496.9 625,484.5 629,485.2 633,482.3 637,485.5 641,499.1 645,522.0 649,529.1 653,508.7 657,500.0 661,498.7 665,504.1 669,500.2 673,491.6 677,481.8 681,481.0 685,476.6 689,474.6 693,471.2 697,485.2 701,499.3 705,503.6 709,490.8 713,480.1 717,482.2 721,494.0 725,511.1 729,523.5 733,527.9 737,532.7 741,513.5 745,502.7 749,494.4 753,499.6 757,494.8 761,493.5 765,489.4 769,492.5 773,485.6 777,491.5 781,494.1 785,506.5 789,509.2 793,515.8 797,514.9 801,524.0 805,526.2 809,527.3 813,515.6 817,500.0 821,487.2 825,480.7 829,475.6 833,473.4 837,475.3 841,476.4 845,474.6 849,473.0 853,476.3 857,477.7 861,493.2 865,494.8 869,497.5 873,493.0 877,496.1 881,499.5 885,507.1 889,513.9 893,513.6 897,497.4 901,489.6 905,480.5 909,483.7 913,485.2 917,502.4 921,516.9 925,526.8 929,539.2 933,537.2 937,536.6 941,529.8 945,523.2 949,508.1 953,501.7 957,494.9 961,517.4 965,522.9 969,534.4 973,510.0 977,507.2 981,500.6 985,513.1 989,503.7 993,488.0 997,473.3 1001,471.6 1005,471.7 1009,473.9 1013,475.4 1017,477.0 1021,483.7 1025,482.8 1029,482.3 1033,473.1 1037,482.7 1041,506.0 1045,518.9 1049,526.5 1053,518.2 1057,515.5 1061,512.4 1065,513.2 1069,518.5 1073,515.9 1077,505.0"/>
<polyline fill="none" stroke="#b41e30" stroke-width="1" shape-rendering="crispEdges" points="5,495.0 9,492.0 13,491.0 17,501.0 21,510.0 25,519.0 29,521.0 33,521.0 37,523.8 41,528.9 45,528.7 49,521.1 53,508.9 57,497.2 61,488.8 65,484.0 69,482.1 73,480.3 77,482.1 81,488.3 85,500.9 89,510.1 93,512.6 97,504.2 101,496.7 105,492.2 109,496.3 113,494.8 117,489.6 121,479.2 125,473.7 129,471.6 133,471.6 137,471.4 141,472.8 145,475.1 149,481.7 153,490.7 157,502.3 161,509.6 165,511.8 169,510.0 173,505.8 177,496.2 181,485.8 185,478.6 189,478.3 193,479.1 197,482.8 201,493.3 205,509.7 209,519.5 213,520.5 217,515.0 221,516.8 225,519.2 229,522.5 233,521.3 237,522.0 241,521.2 245,519.8 249,516.8 253,516.8 257,521.2 261,526.4 265,528.7 269,521.6 273,508.5 277,494.3 281,485.3 285,480.4 289,477.4 293,474.9 297,478.5 301,487.7 305,503.1 309,513.9 313,519.7 317,516.9 321,513.0 325,506.7 329,508.4 333,515.1 337,525.5 341,528.3 345,520.3 349,505.5 353,496.9 357,499.7 361,510.3 365,511.9 369,502.2 373,486.1 377,475.7 381,472.9 385,475.9 389,483.4 393,493.4 397,503.9 401,504.5 405,500.4 409,490.4 413,491.2 417,492.3 421,498.2 425,499.3 429,503.4 433,506.8 437,507.7 441,506.5 445,499.3 449,491.5 453,486.5 457,487.4 461,489.2 465,485.1 469,480.6 473,478.1 477,479.9 481,482.4 485,489.6 489,499.2 493,511.2 497,520.3 501,524.0 505,522.6 509,514.5 513,505.4 517,495.4 521,490.8 525,493.3 529,503.0 533,515.2 537,525.6 541,530.1 545,529.7 549,523.4 553,513.4 557,502.1 561,494.1 565,489.5 569,487.1 573,482.6 577,486.7 581,497.3 585,515.3 589,525.0 593,528.3 597,527.0 601,528.5 605,528.5 609,526.6 613,522.5 617,516.8 621,508.5 625,496.7 629,488.9 633,484.0 637,484.3 641,488.9 645,502.2 649,516.7 653,519.9 657,512.6 661,502.5 665,500.9 669,501.0 673,498.6 677,491.2 681,484.8 685,479.8 689,477.4 693,474.1 697,477.0 701,485.2 705,496.0 709,497.9 713,491.5 717,484.4 721,485.4 725,495.7 729,509.5 733,520.9 737,528.1 741,524.7 745,516.3 749,503.5 753,498.9 757,496.3 761,496.0 765,492.6 769,491.8 773,489.2 777,489.9 781,490.4 785,497.4 789,503.3 793,510.5 797,513.3 801,518.2 805,521.7 809,525.8 813,523.0 817,514.3 821,500.9 825,489.3 829,481.2 833,476.6 837,474.8 841,475.1 845,475.5 849,474.7 853,474.6 857,475.7 861,482.4 865,488.5 869,495.2 873,495.1 877,495.5 881,496.2 885,500.9 889,506.8 893,511.5 897,508.3 901,500.2 905,489.2 909,484.6 913,483.2 917,490.5 921,501.5 925,515.4 929,527.7 933,534.4 937,537.7 941,534.5 945,529.9 949,520.4 953,511.0 957,501.6 961,504.7 965,511.7 969,524.9 973,522.4 977,517.2 981,505.9 985,506.9 989,505.8 993,501.6 997,488.3 1001,477.6 1005,472.2 1009,472.4 1013,473.7 1017,475.4 1021,478.7 1025,481.1 1029,482.9 1033,479.4 1037,479.4 1041,487.3 1045,502.6 1049,517.2 1053,521.2 1057,520.1 1061,515.4 1065,513.7 1069,514.7 1073,515.9 1077,513.2"/>
</g>
<rect x="0" y="0" width="1278" height="1" fill="#a0a0a0"/>
<rect x="0" y="0" width="1" height="565" fill="#a0a0a0"/>
<rect x="1" y="1" width="1277" height="1" fill="#696969"/>
<rect x="1" y="1" width="1" height="564" fill="#696969"/>
<rect x="1278" y="1" width="1" height="565" fill="#e3e3e3"/>
<rect x="1" y="565" width="1278" height="1" fill="#e3e3e3"/>
<rect x="4" y="4" width="1229" height="1" fill="#000"/>
<rect x="4" y="464" width="1229" height="1" fill="#000"/>
<rect x="4" y="4" width="1" height="461" fill="#000"/>
<rect x="1232" y="4" width="1" height="461" fill="#000"/>
<rect x="4" y="466" width="1229" height="1" fill="#000"/>
<rect x="4" y="544" width="1229" height="1" fill="#000"/>
<rect x="4" y="466" width="1" height="79" fill="#000"/>
<rect x="1232" y="466" width="1" height="79" fill="#000"/>
<rect x="1233" y="164" width="2" height="1" fill="#000"/>
<rect x="1233" y="197" width="2" height="1" fill="#000"/>
<rect x="1233" y="230" width="2" height="1" fill="#000"/>
<rect x="1233" y="263" width="2" height="1" fill="#000"/>
<rect x="1233" y="296" width="2" height="1" fill="#000"/>
<rect x="1233" y="329" width="2" height="1" fill="#000"/>
<rect x="1233" y="362" width="2" height="1" fill="#000"/>
<rect x="1233" y="395" width="2" height="1" fill="#000"/>
<rect x="1233" y="428" width="2" height="1" fill="#000"/>
<rect x="1233" y="461" width="2" height="1" fill="#000"/>
<rect x="1233" y="32" width="2" height="1" fill="#000"/>
<rect x="1233" y="65" width="2" height="1" fill="#000"/>
<rect x="1233" y="98" width="2" height="1" fill="#000"/>
<rect x="1233" y="131" width="2" height="1" fill="#000"/>
<rect x="1233" y="28" width="1" height="1" fill="#a8294f"/>
<rect x="1233" y="61" width="1" height="1" fill="#a8294f"/>
<rect x="1233" y="95" width="1" height="1" fill="#c0c0c0"/>
<rect x="1233" y="129" width="1" height="1" fill="#2e8b57"/>
<rect x="1233" y="468" width="2" height="1" fill="#000"/>
<rect x="1233" y="483" width="2" height="1" fill="#000"/>
<rect x="1233" y="528" width="2" height="1" fill="#000"/>
<rect x="1233" y="543" width="2" height="1" fill="#000"/>
<rect x="5" y="545" width="1" height="3" fill="#000"/>
<rect x="69" y="545" width="1" height="3" fill="#000"/>
<rect x="133" y="545" width="1" height="3" fill="#000"/>
<rect x="197" y="545" width="1" height="3" fill="#000"/>
<rect x="261" y="545" width="1" height="3" fill="#000"/>
<rect x="325" y="545" width="1" height="3" fill="#000"/>
<rect x="389" y="545" width="1" height="3" fill="#000"/>
<rect x="453" y="545" width="1" height="3" fill="#000"/>
<rect x="517" y="545" width="1" height="3" fill="#000"/>
<rect x="581" y="545" width="1" height="3" fill="#000"/>
<rect x="645" y="545" width="1" height="3" fill="#000"/>
<rect x="709" y="545" width="1" height="3" fill="#000"/>
<rect x="773" y="545" width="1" height="3" fill="#000"/>
<rect x="837" y="545" width="1" height="3" fill="#000"/>
<rect x="901" y="545" width="1" height="3" fill="#000"/>
<rect x="965" y="545" width="1" height="3" fill="#000"/>
<rect x="1029" y="545" width="1" height="3" fill="#000"/>
<polygon points="1079,5 1088,5 1083.5,10" fill="#b0b0b0"/>
<polygon points="8,11 15,11 11.5,15" fill="#000"/>
</g>
<g fill="#000" stroke="#000" stroke-width="0.25">
<text transform="matrix(0.94 0 0 1 19.7 16)" font-size="10">XAUUSD,H4&#160;&#160;4432.51 4457.75 4427.49 4450.37</text>
<text transform="matrix(0.93 0 0 1 9 479)" font-size="10">Sto(5,3,3) 50.4969 40.2819</text>
<text transform="matrix(0.93 0 0 1 1237.6 168)" font-size="10">4349.55</text>
<text transform="matrix(0.93 0 0 1 1237.6 201)" font-size="10">4301.70</text>
<text transform="matrix(0.93 0 0 1 1237.6 234)" font-size="10">4253.85</text>
<text transform="matrix(0.93 0 0 1 1237.6 267)" font-size="10">4206.00</text>
<text transform="matrix(0.93 0 0 1 1237.6 300)" font-size="10">4158.15</text>
<text transform="matrix(0.93 0 0 1 1237.6 333)" font-size="10">4108.85</text>
<text transform="matrix(0.93 0 0 1 1237.6 366)" font-size="10">4061.00</text>
<text transform="matrix(0.93 0 0 1 1237.6 399)" font-size="10">4013.15</text>
<text transform="matrix(0.93 0 0 1 1237.6 432)" font-size="10">3965.30</text>
<text transform="matrix(0.93 0 0 1 1237.6 465)" font-size="10">3917.45</text>
<text transform="matrix(0.93 0 0 1 1237.6 135)" font-size="10">4397.40</text>
<text transform="matrix(0.93 0 0 1 1237.6 102)" font-size="10">4446.70</text>
<text transform="matrix(0.93 0 0 1 1237.6 69)" font-size="10">4494.55</text>
<text transform="matrix(0.93 0 0 1 1237.6 36)" font-size="10">4542.40</text>
<text transform="matrix(0.93 0 0 1 1236.3 477)" font-size="10">100</text>
<text transform="matrix(0.93 0 0 1 1234.8 487)" font-size="10">80</text>
<text transform="matrix(0.93 0 0 1 1234.8 532)" font-size="10">20</text>
<text transform="matrix(0.93 0 0 1 1235.7 541)" font-size="10">0</text>
<text transform="matrix(0.96 0 0 1 3.8 557)" font-size="10">3 Nov 2025</text>
<text transform="matrix(0.96 0 0 1 67.8 557)" font-size="10">6 Nov 04:00</text>
<text transform="matrix(0.96 0 0 1 131.8 557)" font-size="10">10 Nov 20:00</text>
<text transform="matrix(0.96 0 0 1 195.8 557)" font-size="10">13 Nov 12:00</text>
<text transform="matrix(0.96 0 0 1 259.8 557)" font-size="10">18 Nov 04:00</text>
<text transform="matrix(0.96 0 0 1 323.8 557)" font-size="10">20 Nov 20:00</text>
<text transform="matrix(0.96 0 0 1 387.8 557)" font-size="10">25 Nov 12:00</text>
<text transform="matrix(0.96 0 0 1 451.8 557)" font-size="10">28 Nov 08:00</text>
<text transform="matrix(0.96 0 0 1 515.8 557)" font-size="10">3 Dec 04:00</text>
<text transform="matrix(0.96 0 0 1 579.8 557)" font-size="10">5 Dec 20:00</text>
<text transform="matrix(0.96 0 0 1 643.8 557)" font-size="10">10 Dec 12:00</text>
<text transform="matrix(0.96 0 0 1 707.8 557)" font-size="10">15 Dec 04:00</text>
<text transform="matrix(0.96 0 0 1 771.8 557)" font-size="10">17 Dec 20:00</text>
<text transform="matrix(0.96 0 0 1 835.8 557)" font-size="10">22 Dec 12:00</text>
<text transform="matrix(0.96 0 0 1 899.8 557)" font-size="10">26 Dec 09:00</text>
<text transform="matrix(0.96 0 0 1 963.8 557)" font-size="10">31 Dec 00:00</text>
<text transform="matrix(0.96 0 0 1 1027.8 557)" font-size="10">6 Jan 16:00</text>
</g>
<g shape-rendering="crispEdges">
<rect x="1234" y="22" width="41" height="11" fill="#dc143c"/>
<text transform="matrix(0.93 0 0 1 1237.6 31)" font-size="10" fill="#fff" stroke="#fff" stroke-width="0.2">4549.09</text>
<rect x="1234" y="56" width="41" height="11" fill="#dc143c"/>
<text transform="matrix(0.93 0 0 1 1237.6 65)" font-size="10" fill="#fff" stroke="#fff" stroke-width="0.2">4500.03</text>
<rect x="1234" y="90" width="41" height="11" fill="#000"/>
<text transform="matrix(0.93 0 0 1 1237.6 99)" font-size="10" fill="#fff" stroke="#fff" stroke-width="0.2">4450.37</text>
<rect x="1234" y="123" width="41" height="11" fill="#3cb371"/>
<text transform="matrix(0.93 0 0 1 1237.6 132)" font-size="10" fill="#fff" stroke="#fff" stroke-width="0.2">4400.42</text>
</g>
</svg>
</body></html>
